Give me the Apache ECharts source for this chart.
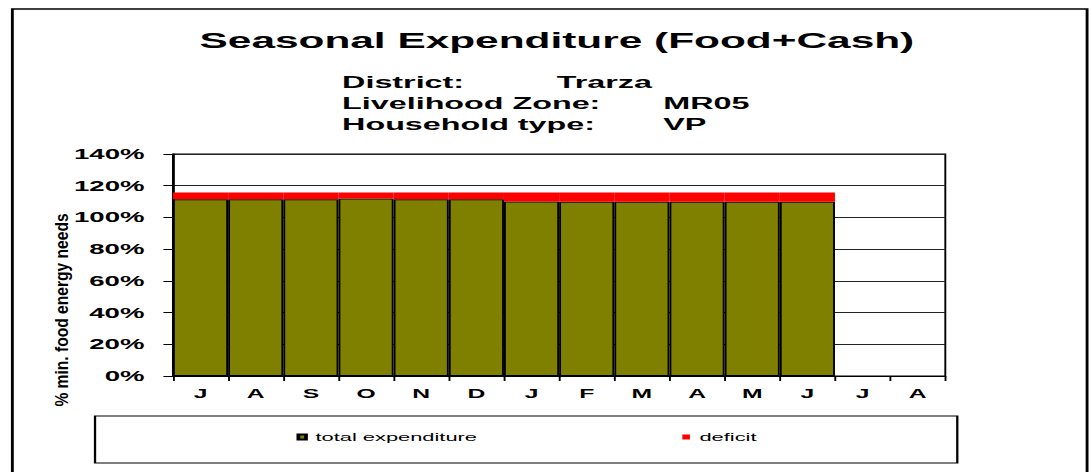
<!DOCTYPE html>
<html>
<head>
<meta charset="utf-8">
<title>Seasonal Expenditure (Food+Cash)</title>
<script src="https://cdn.jsdelivr.net/npm/echarts@6/dist/echarts.min.js"></script>
<style>
  html, body { margin: 0; padding: 0; background: #fff; overflow: hidden; }
  /* the original picture is stretched sideways, so the chart is drawn narrow and widened */
  #chart { width: 573px; height: 472px; transform: scaleX(1.9005); transform-origin: 0 0; }
</style>
</head>
<body>
<div id="chart"></div>
<script>
var months = ['J', 'A', 'S', 'O', 'N', 'D', 'J', 'F', 'M', 'A', 'M', 'J', 'J', 'A']
var totalExpenditure = [111.4, 111.4, 111.4, 111.9, 111.4, 111.4, 110.1, 109.9, 109.9, 109.9, 109.9, 109.9]
var deficit = [4.3, 4.3, 4.3, 3.8, 4.3, 4.3, 5.6, 5.8, 5.8, 5.8, 5.8, 5.8]
var yTicks = [0, 20, 40, 60, 80, 100, 120, 140]

var infoLabels = ['District:', 'Livelihood Zone:', 'Household type:']
var infoValues = ['Trarza', 'MR05', 'VP']

var FONT = '"Liberation Sans", Arial, sans-serif'

function infoText(i) {
  return [{
    type: 'text',
    x: 180,
    y: 82.5 + i * 20.7,
    style: {
      text: infoLabels[i],
      font: 'bold 17px ' + FONT,
      fill: '#000',
      align: 'left',
      verticalAlign: 'middle'
    }
  }, {
    type: 'text',
    x: i === 0 ? 293 : 349,
    y: 82.5 + i * 20.7,
    style: {
      text: infoValues[i],
      font: 'bold 17px ' + FONT,
      fill: '#000',
      align: 'left',
      verticalAlign: 'middle'
    }
  }]
}

var chart = echarts.init(document.getElementById('chart'), null, { renderer: 'svg' })
chart.setOption({
  backgroundColor: '#fff',
  animation: false,
  title: {
    text: 'Seasonal Expenditure (Food+Cash)',
    left: 105,
    top: 29,
    padding: 0,
    textStyle: {
      fontFamily: FONT,
      fontWeight: 'bold',
      fontSize: 22.3,
      color: '#000'
    }
  },
  legend: {
    left: 156,
    top: 431,
    padding: 0,
    itemWidth: 4,
    itemHeight: 5,
    itemGap: 108,
    icon: 'rect',
    data: ['total expenditure', 'deficit'],
    textStyle: {
      fontFamily: FONT,
      fontSize: 11.5,
      color: '#000'
    }
  },
  grid: {
    left: 91,
    right: 75.6,
    top: 154,
    bottom: 96,
    show: true,
    borderColor: '#000',
    borderWidth: 1
  },
  xAxis: {
    type: 'category',
    data: months,
    axisLine: { lineStyle: { color: '#000', width: 1 } },
    axisTick: { show: true, length: 5, lineStyle: { color: '#000' } },
    axisLabel: {
      margin: 11,
      fontFamily: FONT,
      fontWeight: 'bold',
      fontSize: 13,
      color: '#000'
    },
    splitLine: { show: false }
  },
  yAxis: {
    type: 'value',
    min: yTicks[0],
    max: yTicks[yTicks.length - 1],
    interval: 20,
    axisLine: { show: true, lineStyle: { color: '#000', width: 1 } },
    axisTick: { show: true, length: 5, lineStyle: { color: '#000' } },
    axisLabel: {
      margin: 15,
      formatter: '{value}%',
      fontFamily: FONT,
      fontWeight: 'bold',
      fontSize: 14.5,
      color: '#000'
    },
    splitLine: { lineStyle: { color: '#222', width: 1 } }
  },
  series: [{
    name: 'total expenditure',
    type: 'bar',
    stack: 'total',
    barCategoryGap: '0%',
    itemStyle: {
      color: '#808000',
      borderColor: '#000',
      borderWidth: 1
    },
    data: totalExpenditure
  }, {
    name: 'deficit',
    type: 'bar',
    stack: 'total',
    barCategoryGap: '0%',
    itemStyle: {
      color: '#ff0000',
      borderWidth: 0
    },
    data: deficit
  }],
  graphic: [{
    type: 'rect',
    shape: { x: 6.5, y: 9, width: 565.5, height: 470 },
    style: { fill: 'none', stroke: '#000', lineWidth: 1.5 },
    z: -1
  }, {
    type: 'rect',
    shape: { x: 50, y: 416, width: 453.7, height: 47 },
    style: { fill: 'none', stroke: '#000', lineWidth: 1.2 }
  }, {
    // y axis name, narrow and tall like the original
    type: 'text',
    x: 32.6,
    y: 310,
    rotation: Math.PI / 2,
    scaleX: 1.3,
    scaleY: 0.8,
    style: {
      text: '% min. food energy needs',
      font: 'bold 12px ' + FONT,
      fill: '#000',
      align: 'center',
      verticalAlign: 'middle'
    }
  }].concat(infoText(0), infoText(1), infoText(2))
})
</script>
</body>
</html>
